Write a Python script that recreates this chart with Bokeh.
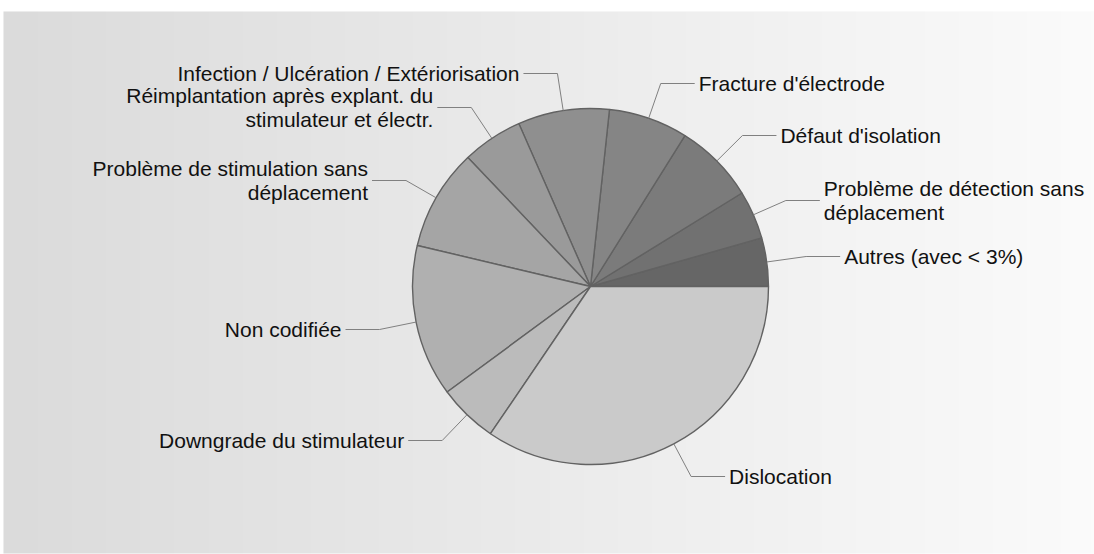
import numpy as np
from bokeh.plotting import figure
from bokeh.models import Range1d, ColumnDataSource
from bokeh.core.properties import value
from bokeh.embed import file_html
from bokeh.resources import INLINE

# ---- data (percent shares, counter-clockwise from 3 o'clock) ----
categories = [
    "Autres (avec < 3%)",
    "Problème de détection sans\ndéplacement",
    "Défaut d'isolation",
    "Fracture d'électrode",
    "Infection / Ulcération / Extériorisation",
    "Réimplantation après explant. du\nstimulateur et électr.",
    "Problème de stimulation sans\ndéplacement",
    "Non codifiée",
    "Downgrade du stimulateur",
    "Dislocation",
]
values = [4.4, 4.4, 7.3, 7.2, 8.3, 5.5, 9.2, 13.8, 5.4, 34.5]

# ---- style / layout ----
colors = ["#666666", "#717171", "#7b7b7b", "#858585", "#8f8f8f",
          "#9a9a9a", "#a5a5a5", "#b0b0b0", "#bbbbbb", "#cacaca"]
label_y_px = [256, 200, 135, 83, 73, 107, 180, 329, 440, 476]  # page px

W, H = 1094, 554
S = 178.0            # px per data unit (pie radius = 1)
CX, CY = 590, 286    # pie centre in page px
PAGE_X0, PAGE_Y0 = 0, 0

def py(ypage):
    return (CY - ypage) / S

p = figure(width=W, height=H, output_backend="svg", toolbar_location=None,
           x_range=Range1d((PAGE_X0 - CX) / S, (PAGE_X0 + W - CX) / S),
           y_range=Range1d(py(PAGE_Y0 + H), py(PAGE_Y0)),
           min_border=0)
p.axis.visible = False
p.grid.visible = False
p.outline_line_color = None
p.background_fill_color = "white"
p.border_fill_color = "white"

# background gradient panel
N = 256
img = np.empty((1, N), dtype=np.uint32)
v = img.view(dtype=np.uint8).reshape((1, N, 4))
g = np.linspace(219, 251, N).astype(np.uint8)
v[0, :, 0] = g
v[0, :, 1] = g
v[0, :, 2] = g
v[0, :, 3] = 255
x0 = (3 - CX) / S
x1 = (1094 - CX) / S
ytop = py(11)
ybot = py(553)
p.image_rgba(image=[img], x=x0, y=ybot, dw=x1 - x0, dh=ytop - ybot)

# pie
vals = np.array(values, dtype=float)
ends = np.cumsum(vals) / vals.sum() * 2 * np.pi
starts = np.concatenate([[0.0], ends[:-1]])
src = ColumnDataSource(dict(start=starts, end=ends, color=colors))
p.wedge(x=0, y=0, radius=1, start_angle="start", end_angle="end",
        direction="anticlock", fill_color="color", line_color="#626262",
        line_width=1.4, source=src)

# leader lines and labels
mids = (starts + ends) / 2
xs, ys, tx, ty, align = [], [], [], [], []
HL = 34 / S
GAP = 4 / S
for m, ly in zip(mids, label_y_px):
    ex, ey = np.cos(m), np.sin(m)
    yl = py(ly)
    t = yl / ey
    bx, by = np.cos(m) * t, yl
    side = 1 if np.cos(m) > 0 else -1
    endx = bx + side * HL
    xs.append([ex, bx, endx])
    ys.append([ey, by, by])
    tx.append(endx + side * GAP)
    ty.append(yl)
    align.append("left" if side > 0 else "right")

p.multi_line(xs=xs, ys=ys, line_color="#808080", line_width=1)
lsrc = ColumnDataSource(dict(x=tx, y=ty, text=categories, align=align))
p.text(x="x", y="y", text="text", text_align="align", text_baseline="middle",
       text_font=value("Liberation Sans"), text_font_size="21px",
       text_color="#111111", text_line_height=1.02, source=lsrc)

open("out.html", "w").write(file_html(p, INLINE))
